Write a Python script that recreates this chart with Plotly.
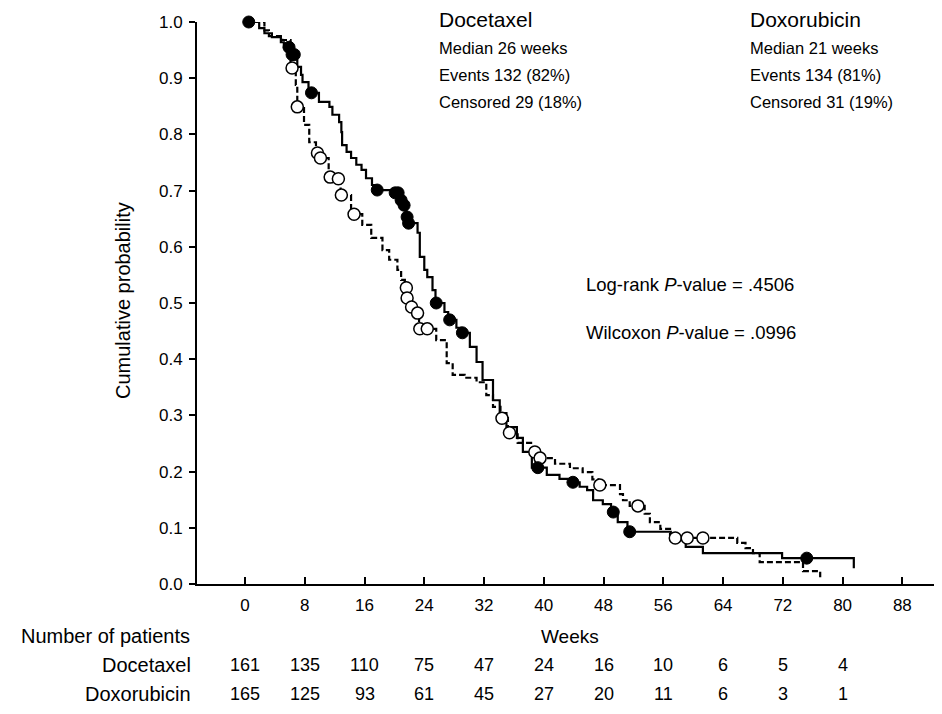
import plotly.graph_objects as go

# ---------------- data ----------------
weeks_ticks = [0, 8, 16, 24, 32, 40, 48, 56, 64, 72, 80, 88]
prob_ticks = [0.0, 0.1, 0.2, 0.3, 0.4, 0.5, 0.6, 0.7, 0.8, 0.9, 1.0]

# Docetaxel Kaplan-Meier steps (time of drop, new level)
doc_t = [0, 1.9, 2.6, 3.6, 4.8, 5.2, 6.1, 7.0, 7.5, 7.7, 8.5, 9.9, 11.3, 11.7, 12.6, 12.9,
         13.0, 13.6, 14.2, 14.9, 15.6, 16.2, 17.0, 17.5, 19.6, 20.8, 21.2, 21.6, 21.8, 23.1,
         23.4, 24.0, 24.4, 25.1, 25.5, 26.7, 27.2, 28.3, 28.9, 30.1, 31.0, 31.8, 33.2, 34.1,
         35.0, 36.4, 37.2, 38.4, 40.4, 42.1, 43.5, 44.8, 45.8, 46.6, 47.9, 49.0, 49.9, 51.2,
         57.0, 59.0, 61.3, 71.9, 81.5]
doc_s = [1.0, 0.989, 0.980, 0.973, 0.964, 0.955, 0.942, 0.920, 0.906, 0.893, 0.874, 0.858,
         0.849, 0.835, 0.822, 0.804, 0.781, 0.769, 0.758, 0.746, 0.737, 0.722, 0.710, 0.701,
         0.696, 0.683, 0.674, 0.653, 0.642, 0.625, 0.582, 0.559, 0.546, 0.523, 0.500, 0.484,
         0.470, 0.456, 0.447, 0.422, 0.395, 0.363, 0.327, 0.304, 0.279, 0.260, 0.235, 0.207,
         0.194, 0.187, 0.181, 0.173, 0.167, 0.149, 0.142, 0.128, 0.110, 0.093, 0.079, 0.066,
         0.055, 0.046, 0.028]
# Docetaxel censored observations
doc_cens_t = [0.5, 5.9, 6.3, 6.6, 8.9, 17.7, 20.1, 20.5, 20.9, 21.3, 21.7, 21.9, 25.6, 27.4,
              29.1, 39.2, 43.9, 49.3, 51.5, 75.2]
doc_cens_s = [1.0, 0.955, 0.942, 0.942, 0.874, 0.701, 0.696, 0.696, 0.683, 0.674, 0.653,
              0.642, 0.500, 0.470, 0.447, 0.207, 0.181, 0.128, 0.093, 0.046]

# Doxorubicin Kaplan-Meier steps
dox_t = [0, 2.6, 3.2, 5.0, 6.1, 6.8, 7.0, 7.9, 8.6, 9.5, 10.0, 11.2, 12.3, 12.8, 14.2, 15.7,
         16.9, 18.4, 19.3, 20.4, 20.9, 21.4, 21.65, 22.2, 22.9, 23.3, 25.6, 27.0, 27.8, 29.4,
         31.0, 32.3, 33.2, 34.2, 35.2, 36.5, 38.3, 39.3, 41.5, 43.5, 45.2, 46.5, 47.3, 50.2,
         50.6, 51.5, 53.5, 54.2, 55.6, 56.9, 57.3, 65.9, 67.0, 68.0, 68.9, 74.7, 77.0]
dox_s = [1.0, 0.985, 0.975, 0.968, 0.918, 0.888, 0.849, 0.817, 0.786, 0.767, 0.758, 0.724,
         0.721, 0.692, 0.658, 0.639, 0.616, 0.594, 0.577, 0.559, 0.541, 0.527, 0.509, 0.493,
         0.482, 0.454, 0.434, 0.393, 0.372, 0.367, 0.359, 0.336, 0.315, 0.295, 0.269, 0.251,
         0.235, 0.224, 0.214, 0.206, 0.199, 0.186, 0.176, 0.160, 0.149, 0.139, 0.125, 0.110,
         0.098, 0.087, 0.082, 0.073, 0.064, 0.055, 0.039, 0.023, 0.012]
# Doxorubicin censored observations
dox_cens_t = [6.3, 7.0, 9.7, 10.1, 11.4, 12.5, 12.9, 14.6, 21.6, 21.7, 22.3, 23.1, 23.4, 24.4,
              34.4, 35.4, 38.8, 39.5, 47.5, 52.6, 57.6, 59.2, 61.3]
dox_cens_s = [0.918, 0.849, 0.767, 0.758, 0.724, 0.721, 0.692, 0.658, 0.527, 0.509, 0.493,
              0.482, 0.454, 0.454, 0.295, 0.269, 0.235, 0.224, 0.176, 0.139, 0.082, 0.082, 0.082]

# Number at risk
risk_weeks = [0, 8, 16, 24, 32, 40, 48, 56, 64, 72, 80]
risk_docetaxel = [161, 135, 110, 75, 47, 24, 16, 10, 6, 5, 4]
risk_doxorubicin = [165, 125, 93, 61, 45, 27, 20, 11, 6, 3, 1]

docetaxel_info = ["Docetaxel", "Median 26 weeks", "Events 132 (82%)", "Censored 29 (18%)"]
doxorubicin_info = ["Doxorubicin", "Median 21 weeks", "Events 134 (81%)", "Censored 31 (19%)"]
stats_lines = ["Log-rank <i>P</i>-value = .4506", "Wilcoxon <i>P</i>-value = .0996"]

# ---------------- layout geometry (pixels, in page coordinates) ----------------
PAGE_OFF = 8                      # default body margin of the html page
W, H = 942 - PAGE_OFF, 714 - PAGE_OFF
AX_L, AX_R, AX_T, AX_B = 197, 940, 22, 584   # plot area in page pixels
L, T = AX_L - PAGE_OFF, AX_T - PAGE_OFF
R = W - (AX_R - PAGE_OFF)
B = H - (AX_B - PAGE_OFF)
PW, PH = AX_R - AX_L, AX_B - AX_T


def px_x(p):
    return (p - AX_L) / PW


def px_y(p):
    return (AX_B - p) / PH


FONT = "Liberation Sans, Arial, Helvetica, sans-serif"

fig = go.Figure()

fig.add_trace(go.Scatter(x=dox_t, y=dox_s, mode="lines", line_shape="hv",
                         line=dict(color="black", width=2.2, dash="6px,3px"),
                         showlegend=False, hoverinfo="skip"))
fig.add_trace(go.Scatter(x=doc_t, y=doc_s, mode="lines", line_shape="hv",
                         line=dict(color="black", width=2.2),
                         showlegend=False, hoverinfo="skip"))
fig.add_trace(go.Scatter(x=dox_cens_t, y=dox_cens_s, mode="markers",
                         marker=dict(symbol="circle", size=12, color="white",
                                     line=dict(color="black", width=1.5)),
                         showlegend=False, cliponaxis=False))
fig.add_trace(go.Scatter(x=doc_cens_t, y=doc_cens_s, mode="markers",
                         marker=dict(symbol="circle", size=12, color="black",
                                     line=dict(color="black", width=1)),
                         showlegend=False, cliponaxis=False))

ann = []
line_y = [20, 48, 75, 102]
for i, (a, b) in enumerate(zip(docetaxel_info, doxorubicin_info)):
    size = 21 if i == 0 else 16.5
    ann.append(dict(x=px_x(437), y=px_y(line_y[i]), xref="paper", yref="paper", text=a,
                    showarrow=False, xanchor="left", yanchor="middle",
                    font=dict(size=size, family=FONT, color="black")))
    ann.append(dict(x=px_x(748), y=px_y(line_y[i]), xref="paper", yref="paper", text=b,
                    showarrow=False, xanchor="left", yanchor="middle",
                    font=dict(size=size, family=FONT, color="black")))
for s, yy in zip(stats_lines, [284, 333]):
    ann.append(dict(x=px_x(584), y=px_y(yy), xref="paper", yref="paper", text=s,
                    showarrow=False, xanchor="left", yanchor="middle",
                    font=dict(size=18.5, family=FONT, color="black")))
ann.append(dict(x=px_x(123), y=px_y(301), xref="paper", yref="paper",
                text="Cumulative probability", textangle=-90, showarrow=False,
                xanchor="center", yanchor="middle",
                font=dict(size=20, family=FONT, color="black")))
ann.append(dict(x=px_x(570), y=px_y(636), xref="paper", yref="paper", text="Weeks",
                showarrow=False, xanchor="center", yanchor="middle",
                font=dict(size=19, family=FONT, color="black")))
ann.append(dict(x=px_x(192), y=px_y(636), xref="paper", yref="paper",
                text="Number of patients", showarrow=False, xanchor="right", yanchor="middle",
                font=dict(size=20, family=FONT, color="black")))
for name, vals, yy in [("Docetaxel", risk_docetaxel, 665), ("Doxorubicin", risk_doxorubicin, 694)]:
    ann.append(dict(x=px_x(193), y=px_y(yy), xref="paper", yref="paper", text=name,
                    showarrow=False, xanchor="right", yanchor="middle",
                    font=dict(size=20, family=FONT, color="black")))
    for wk, v in zip(risk_weeks, vals):
        ann.append(dict(x=wk, y=px_y(yy), xref="x", yref="paper", text=str(v),
                        showarrow=False, xanchor="center", yanchor="middle",
                        font=dict(size=18, family=FONT, color="black")))

PX_PER_WEEK = 7.47
ZERO_PX = 245
x0 = (AX_L - ZERO_PX) / PX_PER_WEEK
x1 = (AX_R - ZERO_PX) / PX_PER_WEEK

fig.update_layout(
    width=W, height=H,
    margin=dict(l=L, r=R, t=T, b=B, pad=0),
    paper_bgcolor="white", plot_bgcolor="white",
    font=dict(family=FONT, color="black"),
    annotations=ann,
    xaxis=dict(range=[x0, x1], tickvals=weeks_ticks, ticks="inside", ticklen=7,
               tickwidth=1.5, tickcolor="black", showline=True, linecolor="black",
               linewidth=2, showgrid=False, zeroline=False,
               tickfont=dict(size=17, family=FONT, color="black"), ticklabelstandoff=5),
    yaxis=dict(range=[0, 1.0], tickvals=prob_ticks, tickformat=".1f", ticks="outside",
               ticklen=6, tickwidth=1.5, tickcolor="black", showline=True,
               linecolor="black", linewidth=2, showgrid=False, zeroline=False,
               tickfont=dict(size=17, family=FONT, color="black"), ticklabelstandoff=3),
)

fig.write_html("out.html")
